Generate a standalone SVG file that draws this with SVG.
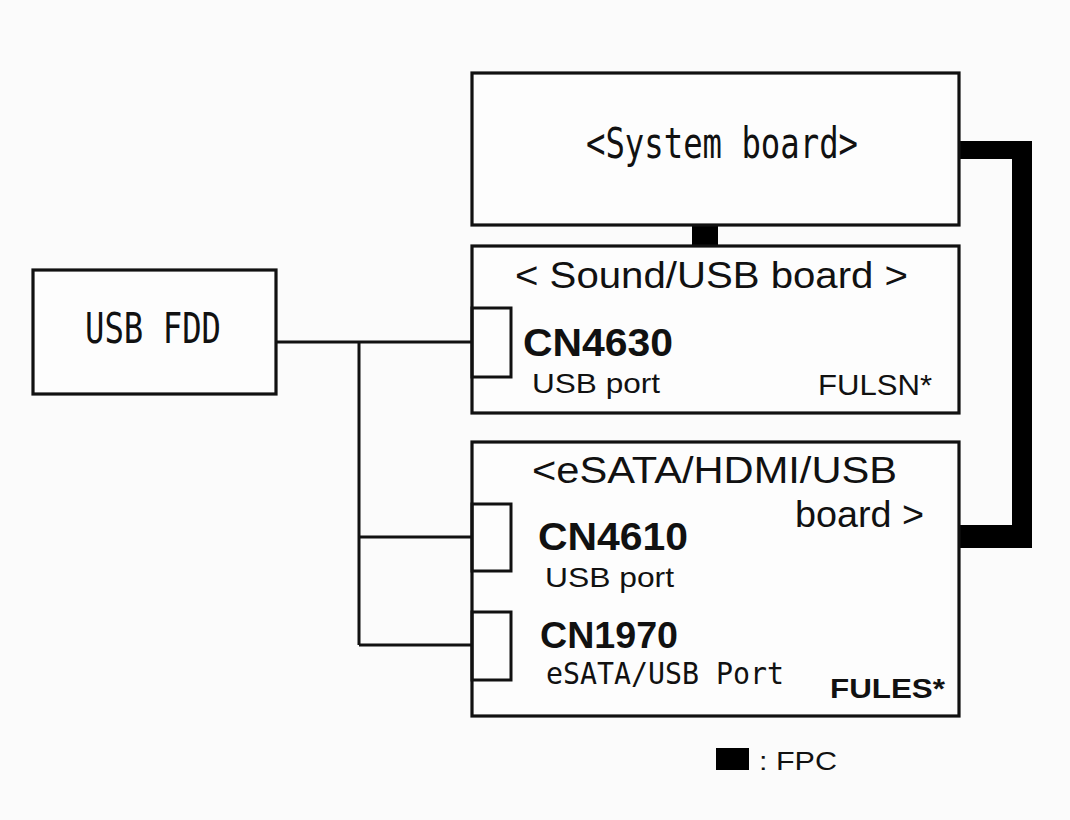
<svg xmlns="http://www.w3.org/2000/svg" width="1070" height="820" viewBox="0 0 1070 820">
<style>
.box{fill:#fdfdfd;stroke:#111;stroke-width:3.2}
.port{fill:none;stroke:#111;stroke-width:3}
.wire{fill:none;stroke:#111;stroke-width:3}
.fpc{fill:#000}
.mono{font-family:"DejaVu Sans Mono","Liberation Mono",monospace;fill:#111}
.sans{font-family:"Liberation Sans",Arial,sans-serif;fill:#111}
.b{font-weight:bold}
</style>
<rect x="0" y="0" width="1070" height="820" fill="#fbfbfb"/>
<g id="connectors">
<path class="wire" d="M276,342 H472 M359,342 V645 M359,537 H472 M359,645 H472"/>
<rect class="fpc" x="692" y="225" width="26" height="21"/>
<polygon class="fpc" points="959,141 1032,141 1032,548 959,548 959,525 1012,525 1012,159 959,159"/>
</g>
<g id="system-board">
<rect class="box" x="472" y="73" width="487" height="152"/>
<text class="mono" x="586" y="158" font-size="42" textLength="272" lengthAdjust="spacingAndGlyphs">&lt;System board&gt;</text>
</g>
<g id="sound-usb-board">
<rect class="box" x="472" y="246" width="487" height="167"/>
<text class="sans" x="515" y="288" font-size="36" textLength="393" lengthAdjust="spacingAndGlyphs">&lt; Sound/USB board &gt;</text>
<rect class="port" x="472" y="308" width="39" height="69"/>
<text class="sans b" x="523" y="356" font-size="38" textLength="150" lengthAdjust="spacingAndGlyphs">CN4630</text>
<text class="sans" x="532" y="393" font-size="28" textLength="128" lengthAdjust="spacingAndGlyphs">USB port</text>
<text class="sans" x="818" y="395" font-size="29" textLength="114" lengthAdjust="spacingAndGlyphs">FULSN*</text>
</g>
<g id="esata-hdmi-usb-board">
<rect class="box" x="472" y="442" width="487" height="274"/>
<text class="sans" x="532" y="483" font-size="36" textLength="365" lengthAdjust="spacingAndGlyphs">&lt;eSATA/HDMI/USB</text>
<text class="sans" x="795" y="527" font-size="36" textLength="129" lengthAdjust="spacingAndGlyphs">board &gt;</text>
<rect class="port" x="472" y="504" width="39" height="67"/>
<text class="sans b" x="538" y="550" font-size="38" textLength="150" lengthAdjust="spacingAndGlyphs">CN4610</text>
<text class="sans" x="545" y="587" font-size="28" textLength="129" lengthAdjust="spacingAndGlyphs">USB port</text>
<rect class="port" x="472" y="612" width="39" height="68"/>
<text class="sans b" x="540" y="648" font-size="36" textLength="138" lengthAdjust="spacingAndGlyphs">CN1970</text>
<text class="mono" x="546" y="684" font-size="31" textLength="238" lengthAdjust="spacingAndGlyphs">eSATA/USB Port</text>
<text class="sans b" x="830" y="698" font-size="28" textLength="115" lengthAdjust="spacingAndGlyphs">FULES*</text>
</g>
<g id="usb-fdd">
<rect class="box" x="33" y="270" width="243" height="124"/>
<text class="mono" x="85" y="343" font-size="42" textLength="136" lengthAdjust="spacingAndGlyphs">USB FDD</text>
</g>
<g id="legend">
<rect class="fpc" x="716" y="748" width="33" height="22"/>
<text class="sans" x="759" y="770" font-size="26" textLength="78" lengthAdjust="spacingAndGlyphs">: FPC</text>
</g>
</svg>
